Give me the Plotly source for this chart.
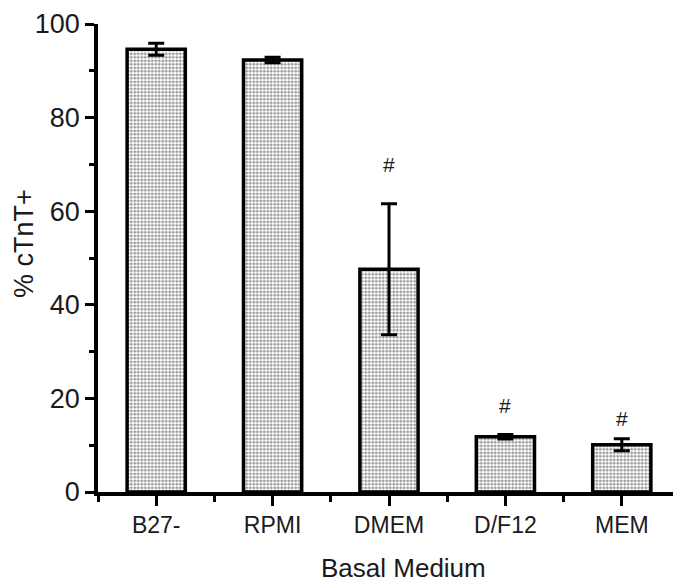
import plotly.graph_objects as go

categories = ["B27-", "RPMI", "DMEM", "D/F12", "MEM"]
values = [94.6, 92.3, 47.6, 11.8, 10.1]
errors = [1.3, 0.6, 14.0, 0.5, 1.3]
marks = ["", "", "#", "#", "#"]
mark_y = [0, 0, 70.0, 18.5, 15.8]

xpos = list(range(len(categories)))
FONT = "Liberation Sans, Arial"
INK = "#1a1a1a"

fig = go.Figure()
fig.add_trace(go.Bar(
    x=xpos, y=values, width=0.5,
    marker=dict(
        color="white",
        line=dict(color="black", width=3.5),
        pattern=dict(shape=".", fgcolor="#2a2a2a", bgcolor="#ffffff", size=3.5, solidity=0.5),
    ),
    error_y=dict(type="data", array=errors, visible=True, color="black", thickness=3, width=8),
    showlegend=False,
))

for xi, m, my in zip(xpos, marks, mark_y):
    if m:
        fig.add_annotation(x=xi, y=my, text=m, showarrow=False,
                           font=dict(family=FONT, size=21, color=INK))

fig.add_annotation(text="% cTnT+", xref="paper", yref="paper", x=0, y=0.5,
                   xshift=-74, yshift=14, textangle=-90, showarrow=False,
                   xanchor="center", yanchor="middle",
                   font=dict(family=FONT, size=27, color=INK))
fig.add_annotation(text="Basal Medium", xref="paper", yref="paper", x=0.5, y=0,
                   xshift=14, yshift=-76, showarrow=False,
                   xanchor="center", yanchor="middle",
                   font=dict(family=FONT, size=26, color=INK))

# page body has an 8px default margin, so the figure is sized/offset to compensate
fig.update_layout(
    width=673, height=578,
    margin=dict(l=90, r=1, t=16, b=94),
    plot_bgcolor="white", paper_bgcolor="white",
    font=dict(family=FONT, color=INK),
)
fig.update_xaxes(
    range=[-0.5, 4.5], tickmode="array", tickvals=xpos, ticktext=categories,
    showline=True, linecolor="black", linewidth=3.5, mirror=False,
    ticks="outside", ticklen=10, tickwidth=3, tickcolor="black",
    minor=dict(tickvals=[-0.5, 0.5, 1.5, 2.5, 3.5, 4.5], ticks="outside", ticklen=6, tickwidth=3, tickcolor="black"),
    showgrid=False, zeroline=False, automargin=False, ticklabeloverflow="allow",
    tickfont=dict(size=23, color=INK),
)
fig.update_yaxes(
    range=[0, 100], tickvals=[0, 20, 40, 60, 80, 100],
    showline=True, linecolor="black", linewidth=3.5,
    ticks="outside", ticklen=9, tickwidth=3, tickcolor="black",
    minor=dict(tickvals=[10, 30, 50, 70, 90], ticks="outside", ticklen=5, tickwidth=3, tickcolor="black"),
    showgrid=False, zeroline=False, automargin=False, ticklabeloverflow="allow",
    tickfont=dict(size=27, color=INK),
)

fig.write_html("out.html")
